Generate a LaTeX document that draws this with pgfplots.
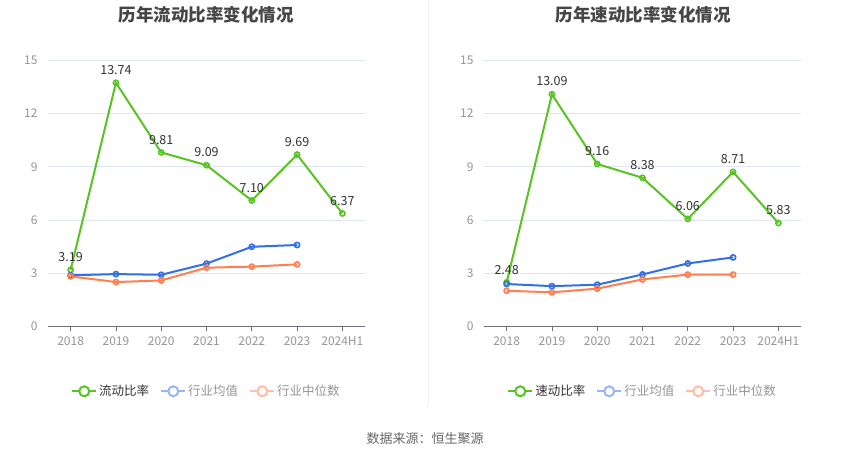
\documentclass[border=0pt]{standalone}
\usepackage{pgfplots}
\pgfplotsset{compat=1.18}
\usepackage{fontspec}
\setmainfont{Noto Sans CJK SC}
\definecolor{cgreen}{RGB}{88,196,36}
\definecolor{cblue}{RGB}{51,112,230}
\definecolor{corange}{RGB}{255,127,80}
\definecolor{cblueL}{RGB}{150,182,245}
\definecolor{corangeL}{RGB}{255,190,165}
\definecolor{gridc}{RGB}{224,230,241}
\definecolor{axisc}{RGB}{110,112,121}
\definecolor{tickc}{RGB}{150,150,150}
\definecolor{titlec}{RGB}{70,70,70}
\definecolor{labc}{RGB}{51,51,51}
\pgfplotsset{
  mystyle/.style={
    scale only axis, width=317pt, height=266pt,
    xmin=-0.5, xmax=6.5, ymin=0, ymax=15,
    xtick={0,...,6},
    xticklabels={2018,2019,2020,2021,2022,2023,2024H1},
    ytick={0,3,...,15},
    ymajorgrids, major grid style={color=gridc, line width=0.8pt},
    axis x line=bottom, axis y line=left,
    x axis line style={-, color=axisc, line width=0.8pt},
    y axis line style={draw=none},
    tick align=outside,
    xtick style={color=axisc, line width=0.8pt},
    major tick length=5pt,
    ytick style={draw=none},
    tick label style={font=\fontsize{12}{12}\selectfont, color=tickc},
    /pgf/number format/assume math mode=true,
    xticklabel style={yshift=-2pt},
    yticklabel style={xshift=-2pt},
    legend style={draw=none, fill=none, legend columns=3, anchor=center,
      font=\fontsize{12.5}{12.5}\selectfont, text=labc,
      /tikz/every even column/.append style={column sep=9pt}},
    legend image code/.code={
      \draw[#1, mark=none, line width=2pt] (0pt,0pt) -- (24pt,0pt);
      \draw[#1, mark=none, fill=white, line width=2pt] (12pt,0pt) circle (5pt);
    },
  },
  ser/.style={line width=2pt, mark=o, mark size=2.6pt, mark options={fill=white, line width=1.6pt, solid}},
  lab/.style={nodes near coords={\pgfmathprintnumber[fixed,precision=2,zerofill]{\pgfplotspointmeta}},
    every node near coord/.append style={font=\fontsize{12.5}{12.5}\selectfont, color=labc, anchor=south, yshift=4pt},
    /pgf/number format/assume math mode=true},
}
\begin{document}
\begin{tikzpicture}
\path[fill=white] (0pt,0pt) rectangle (850pt,459pt);
\draw[color=black!6, line width=0.8pt] (428pt,459pt) -- (428pt,54pt);
\node[font=\fontsize{17.5}{17.5}\selectfont\bfseries, color=titlec] at (206pt,445pt) {历年流动比率变化情况};
\node[font=\fontsize{17.5}{17.5}\selectfont\bfseries, color=titlec] at (643pt,445pt) {历年速动比率变化情况};
\node[font=\fontsize{13}{13}\selectfont, color=black!60] at (425pt,21pt) {数据来源：恒生聚源};

\begin{axis}[mystyle, at={(48pt,133pt)}, anchor=south west,
  legend style={at={(0.5,-0.244)}}]
\addplot[ser, color=cgreen, lab] coordinates {(0,3.19) (1,13.74) (2,9.81) (3,9.09) (4,7.10) (5,9.69) (6,6.37)};
\addlegendentry{流动比率}
\addlegendimage{color=cblueL}
\addlegendentry{\textcolor{tickc}{行业均值}}
\addlegendimage{color=corangeL}
\addlegendentry{\textcolor{tickc}{行业中位数}}
\addplot[ser, color=cblue, forget plot] coordinates {(0,2.88) (1,2.95) (2,2.91) (3,3.54) (4,4.49) (5,4.59)};
\addplot[ser, color=corange, forget plot] coordinates {(0,2.82) (1,2.50) (2,2.59) (3,3.31) (4,3.37) (5,3.50)};
\end{axis}

\begin{axis}[mystyle, at={(484pt,133pt)}, anchor=south west,
  legend style={at={(0.5,-0.244)}}]
\addplot[ser, color=cgreen, lab] coordinates {(0,2.48) (1,13.09) (2,9.16) (3,8.38) (4,6.06) (5,8.71) (6,5.83)};
\addlegendentry{速动比率}
\addlegendimage{color=cblueL}
\addlegendentry{\textcolor{tickc}{行业均值}}
\addlegendimage{color=corangeL}
\addlegendentry{\textcolor{tickc}{行业中位数}}
\addplot[ser, color=cblue, forget plot] coordinates {(0,2.39) (1,2.27) (2,2.35) (3,2.93) (4,3.55) (5,3.89)};
\addplot[ser, color=corange, forget plot] coordinates {(0,2.01) (1,1.92) (2,2.13) (3,2.65) (4,2.92) (5,2.92)};
\end{axis}
\end{tikzpicture}
\end{document}
